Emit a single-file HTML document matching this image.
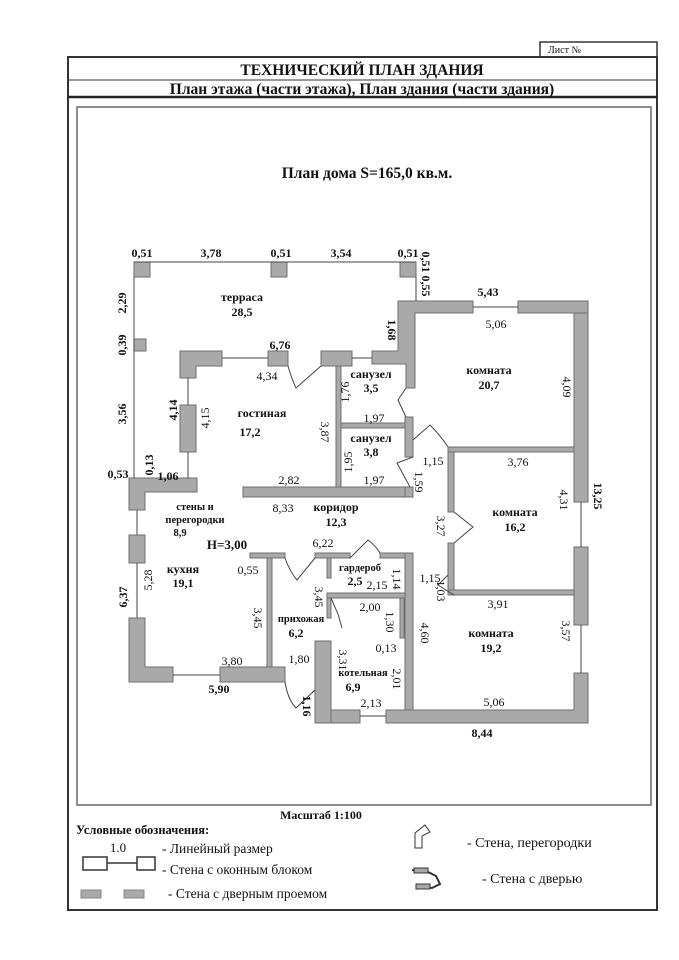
<!DOCTYPE html>
<html><head><meta charset="utf-8"><style>
body{margin:0;background:#fff}
svg{display:block}
text{font-family:"Liberation Serif",serif;fill:#111}
.b{font-weight:bold}
</style></head><body>
<svg width="679" height="960" viewBox="0 0 679 960" xmlns="http://www.w3.org/2000/svg">
<rect x="540" y="42" width="117" height="15" fill="#fff" stroke="#333" stroke-width="1.5"/>
<text x="548" y="53" font-size="10">Лист №</text>
<rect x="68" y="57" width="589" height="853" fill="none" stroke="#333" stroke-width="2"/>
<line x1="68" y1="80" x2="657" y2="80" stroke="#333" stroke-width="1"/>
<line x1="68" y1="97" x2="657" y2="97" stroke="#222" stroke-width="2.5"/>
<text x="362" y="75" font-size="15.5" class="b" text-anchor="middle">ТЕХНИЧЕСКИЙ ПЛАН ЗДАНИЯ</text>
<text x="362" y="94" font-size="15.5" class="b" text-anchor="middle">План этажа (части этажа), План здания (части здания)</text>
<rect x="77" y="107" width="574" height="698" fill="none" stroke="#444" stroke-width="1.2"/>
<text x="367" y="178" font-size="15.5" class="b" text-anchor="middle">План дома  S=165,0 кв.м.</text>

<g fill="#a9a9a9" stroke="#6e6e6e" stroke-width="1">
<rect x="134" y="262" width="16" height="15"/>
<rect x="271" y="262" width="16" height="15"/>
<rect x="400" y="262" width="16" height="15"/>
<rect x="134" y="339" width="12" height="12"/>
<path d="M180 351H222V366H196V378H180Z"/>
<rect x="268" y="351" width="20" height="15"/>
<rect x="321" y="351" width="31" height="15"/>
<path d="M372 351H398V301H473V313H415V388H406V364H372Z"/>
<rect x="518" y="301" width="70" height="12"/>
<rect x="574" y="313" width="14" height="189"/>
<rect x="574" y="547" width="14" height="78"/>
<path d="M574 673H588V723H386V710H574Z"/>
<rect x="316" y="710" width="44" height="13"/>
<rect x="180" y="405" width="16" height="47"/>
<rect x="336" y="366" width="5" height="121"/>
<rect x="341" y="423" width="64" height="5"/>
<rect x="405" y="417" width="8" height="40"/>
<rect x="405" y="487" width="8" height="10"/>
<rect x="243" y="487" width="162" height="10"/>
<rect x="448" y="447" width="126" height="5"/>
<rect x="448" y="452" width="6" height="60"/>
<rect x="448" y="543" width="6" height="52"/>
<rect x="448" y="590" width="126" height="5"/>
<path d="M130 478H197V492H145V510H129V478Z"/>
<rect x="129" y="535" width="16" height="28"/>
<path d="M129 618H145V667H173V682H129Z"/>
<rect x="220" y="667" width="65" height="15"/>
<rect x="267" y="553" width="5" height="114"/>
<rect x="250" y="553" width="35" height="5"/>
<rect x="315" y="553" width="35" height="5"/>
<rect x="380" y="553" width="25" height="5"/>
<rect x="405" y="553" width="8" height="157"/>
<rect x="327" y="558" width="4" height="20"/>
<rect x="327" y="593" width="78" height="5"/>
<rect x="327" y="598" width="4" height="20"/>
<rect x="400" y="598" width="4" height="40"/>
<rect x="315" y="641" width="16" height="82"/>
<rect x="331" y="710" width="29" height="13"/>
</g>

<g stroke="#444" stroke-width="1" fill="none">
<line x1="134" y1="262" x2="416" y2="262"/>
<line x1="134" y1="277" x2="134" y2="478"/>
<line x1="416" y1="277" x2="416" y2="301"/>
<line x1="222" y1="358" x2="268" y2="358"/>
<line x1="352" y1="358" x2="372" y2="358"/>
<line x1="473" y1="307" x2="518" y2="307"/>
<line x1="581" y1="502" x2="581" y2="547"/>
<line x1="581" y1="625" x2="581" y2="673"/>
<line x1="173" y1="675" x2="220" y2="675"/>
<line x1="360" y1="716" x2="386" y2="716"/>
<line x1="137" y1="510" x2="137" y2="535"/>
<line x1="137" y1="563" x2="137" y2="618"/>
<line x1="188" y1="378" x2="188" y2="405"/>
<line x1="188" y1="452" x2="188" y2="478"/>
<path d="M288 366 Q292 380 296 388 L321 366"/>
<path d="M406 388 L398 400 L406 417"/>
<path d="M413 457 L397 463 L410 487"/>
<path d="M413 440 L430 425 Q440 435 448 447"/>
<path d="M454 512 L473 527 L454 543"/>
<path d="M454 595 L438 585 L448 575"/>
<path d="M285 558 Q290 572 297 580 L315 558"/>
<path d="M350 558 L368 540 Q376 546 380 553"/>
<path d="M331 598 L338 614 L342 628"/>
<path d="M315 690 L296 708 Q288 700 285 682"/>
</g>

<g font-size="12">
<text x="142" y="257" class="b" text-anchor="middle">0,51</text>
<text x="211" y="257" class="b" text-anchor="middle">3,78</text>
<text x="281" y="257" class="b" text-anchor="middle">0,51</text>
<text x="341" y="257" class="b" text-anchor="middle">3,54</text>
<text x="408" y="257" class="b" text-anchor="middle">0,51</text>
<text x="242" y="301" class="b" text-anchor="middle">терраса</text>
<text x="242" y="316" class="b" text-anchor="middle">28,5</text>
<text x="280" y="349" class="b" text-anchor="middle">6,76</text>
<text x="267" y="380" text-anchor="middle">4,34</text>
<text x="488" y="296" class="b" text-anchor="middle">5,43</text>
<text x="496" y="328" text-anchor="middle">5,06</text>
<text x="489" y="374" class="b" text-anchor="middle">комната</text>
<text x="489" y="389" class="b" text-anchor="middle">20,7</text>
<text x="371" y="378" class="b" text-anchor="middle">санузел</text>
<text x="371" y="392" class="b" text-anchor="middle">3,5</text>
<text x="374" y="422" text-anchor="middle">1,97</text>
<text x="371" y="442" class="b" text-anchor="middle">санузел</text>
<text x="371" y="456" class="b" text-anchor="middle">3,8</text>
<text x="374" y="484" text-anchor="middle">1,97</text>
<text x="433" y="465" text-anchor="middle">1,15</text>
<text x="518" y="466" text-anchor="middle">3,76</text>
<text x="515" y="516" class="b" text-anchor="middle">комната</text>
<text x="515" y="531" class="b" text-anchor="middle">16,2</text>
<text x="262" y="417" class="b" text-anchor="middle">гостиная</text>
<text x="250" y="436" class="b" text-anchor="middle">17,2</text>
<text x="289" y="484" text-anchor="middle">2,82</text>
<text x="283" y="512" text-anchor="middle">8,33</text>
<text x="336" y="511" class="b" text-anchor="middle">коридор</text>
<text x="336" y="526" class="b" text-anchor="middle">12,3</text>
<text x="118" y="478" class="b" text-anchor="middle">0,53</text>
<text x="168" y="480" class="b" text-anchor="middle">1,06</text>
<text x="195" y="510" class="b" text-anchor="middle" font-size="10.5">стены и</text>
<text x="195" y="523" class="b" text-anchor="middle" font-size="10.5">перегородки</text>
<text x="180" y="536" class="b" text-anchor="middle" font-size="10.5">8,9</text>
<text x="227" y="549" class="b" text-anchor="middle" font-size="13">H=3,00</text>
<text x="323" y="547" text-anchor="middle">6,22</text>
<text x="248" y="574" text-anchor="middle">0,55</text>
<text x="183" y="573" class="b" text-anchor="middle">кухня</text>
<text x="183" y="587" class="b" text-anchor="middle">19,1</text>
<text x="360" y="571" class="b" text-anchor="middle" font-size="10.5">гардероб</text>
<text x="355" y="585" class="b" text-anchor="middle">2,5</text>
<text x="377" y="589" text-anchor="middle">2,15</text>
<text x="370" y="611" text-anchor="middle">2,00</text>
<text x="386" y="652" text-anchor="middle">0,13</text>
<text x="498" y="608" text-anchor="middle">3,91</text>
<text x="491" y="637" class="b" text-anchor="middle">комната</text>
<text x="491" y="652" class="b" text-anchor="middle">19,2</text>
<text x="301" y="622" class="b" text-anchor="middle" font-size="10.5">прихожая</text>
<text x="296" y="637" class="b" text-anchor="middle">6,2</text>
<text x="299" y="663" text-anchor="middle">1,80</text>
<text x="232" y="665" text-anchor="middle">3,80</text>
<text x="219" y="693" class="b" text-anchor="middle">5,90</text>
<text x="363" y="676" class="b" text-anchor="middle" font-size="10.5">котельная</text>
<text x="353" y="691" class="b" text-anchor="middle">6,9</text>
<text x="371" y="707" text-anchor="middle">2,13</text>
<text x="494" y="706" text-anchor="middle">5,06</text>
<text x="482" y="737" class="b" text-anchor="middle">8,44</text>
<text x="430" y="582" text-anchor="middle">1,15</text>
</g>
<g font-size="12">
<text transform="translate(126,303) rotate(-90)" class="b" text-anchor="middle">2,29</text>
<text transform="translate(126,345) rotate(-90)" class="b" text-anchor="middle">0,39</text>
<text transform="translate(126,414) rotate(-90)" text-anchor="middle" class="b">3,56</text>
<text transform="translate(127,597) rotate(-90)" class="b" text-anchor="middle">6,37</text>
<text transform="translate(177,410) rotate(-90)" class="b" text-anchor="middle">4,14</text>
<text transform="translate(209,418) rotate(-90)" text-anchor="middle">4,15</text>
<text transform="translate(153,465) rotate(-90)" class="b" text-anchor="middle">0,13</text>
<text transform="translate(152,580) rotate(-90)" text-anchor="middle">5,28</text>
<text transform="translate(349,392) rotate(-90)" text-anchor="middle">1,76</text>
<text transform="translate(352,462) rotate(-90)" text-anchor="middle">1,95</text>
<text transform="translate(321,432) rotate(90)" text-anchor="middle">3,87</text>
<text transform="translate(388,330) rotate(90)" class="b" text-anchor="middle">1,68</text>
<text transform="translate(422,274) rotate(90)" class="b" text-anchor="middle">0,51 0,55</text>
<text transform="translate(415,482) rotate(90)" text-anchor="middle">1,59</text>
<text transform="translate(437,526) rotate(90)" text-anchor="middle">3,27</text>
<text transform="translate(563,387) rotate(90)" text-anchor="middle">4,09</text>
<text transform="translate(560,500) rotate(90)" text-anchor="middle">4,31</text>
<text transform="translate(594,496) rotate(90)" class="b" text-anchor="middle">13,25</text>
<text transform="translate(562,631) rotate(90)" text-anchor="middle">3,57</text>
<text transform="translate(393,579) rotate(90)" text-anchor="middle">1,14</text>
<text transform="translate(386,622) rotate(90)" text-anchor="middle">1,30</text>
<text transform="translate(393,679) rotate(90)" text-anchor="middle">2,01</text>
<text transform="translate(421,633) rotate(90)" text-anchor="middle">4,60</text>
<text transform="translate(339,660) rotate(90)" text-anchor="middle">3,31</text>
<text transform="translate(315,597) rotate(90)" text-anchor="middle">3,45</text>
<text transform="translate(254,618) rotate(90)" text-anchor="middle">3,45</text>
<text transform="translate(303,706) rotate(90)" class="b" text-anchor="middle">1,16</text>
<text transform="translate(437,591) rotate(90)" text-anchor="middle">1,03</text>
</g>

<text x="321" y="819" font-size="12" class="b" text-anchor="middle">Масштаб 1:100</text>
<text x="76" y="834" font-size="12.5" class="b">Условные обозначения:</text>
<text x="118" y="852" font-size="13" text-anchor="middle">1.0</text>
<text x="162" y="853" font-size="13.5">-  Линейный размер</text>
<rect x="83" y="857" width="24" height="13" fill="#fff" stroke="#333" stroke-width="1.5"/>
<line x1="107" y1="863" x2="137" y2="863" stroke="#333" stroke-width="1.5"/>
<rect x="137" y="857" width="18" height="13" fill="#fff" stroke="#333" stroke-width="1.5"/>
<text x="162" y="874" font-size="13.5">-  Стена с оконным блоком</text>
<rect x="81" y="890" width="20" height="8" fill="#a9a9a9" stroke="#888"/>
<rect x="124" y="890" width="20" height="8" fill="#a9a9a9" stroke="#888"/>
<text x="168" y="898" font-size="13.5">-  Стена с дверным проемом</text>
<path d="M415 848V833L425 825L430 832L422 836V848Z" fill="#fff" stroke="#333"/>
<text x="467" y="847" font-size="14">-  Стена, перегородки</text>
<path d="M412 870L428 872L436 876L440 884L432 888L416 886" fill="none" stroke="#333" stroke-width="2"/>
<rect x="414" y="868" width="14" height="5" fill="#a9a9a9" stroke="#333"/>
<rect x="416" y="884" width="14" height="5" fill="#a9a9a9" stroke="#333"/>
<text x="482" y="883" font-size="14">-  Стена с дверью</text>
</svg>
</body></html>
